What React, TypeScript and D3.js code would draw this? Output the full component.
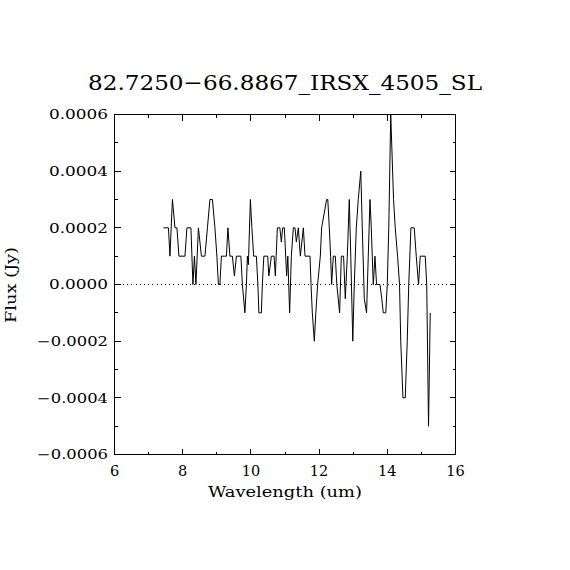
import React from "react";
import * as d3 from "d3";

const TITLE = "82.7250\u221266.8867_IRSX_4505_SL";
const X_LABEL = "Wavelength (um)";
const Y_LABEL = "Flux (Jy)";

const WAVELENGTH = [
  7.436, 7.582, 7.626, 7.699, 7.773, 7.831, 7.89, 8.066, 8.124, 8.241, 8.3, 8.344, 8.388, 8.461, 8.549,
  8.652, 8.725, 8.798, 8.871, 8.945, 9.003, 9.047, 9.091, 9.135, 9.282, 9.326, 9.384, 9.457, 9.516, 9.575,
  9.706, 9.75, 9.824, 9.868, 9.897, 9.926, 9.985, 10.029, 10.081, 10.161, 10.205, 10.234, 10.307, 10.336,
  10.38, 10.492, 10.527, 10.6, 10.679, 10.717, 10.776, 10.849, 10.893, 10.931, 10.981, 11.048, 11.083,
  11.136, 11.186, 11.245, 11.294, 11.333, 11.391, 11.45, 11.538, 11.587, 11.734, 11.763, 11.801, 11.86,
  11.904, 11.957, 12.036, 12.074, 12.22, 12.255, 12.299, 12.338, 12.367, 12.417, 12.475, 12.519, 12.601,
  12.651, 12.718, 12.768, 12.827, 12.885, 12.929, 12.988, 13.032, 13.091, 13.149, 13.222, 13.266, 13.325,
  13.392, 13.442, 13.492, 13.53, 13.559, 13.589, 13.638, 13.685, 13.785, 13.838, 13.882, 13.955, 13.999,
  14.043, 14.101, 14.183, 14.233, 14.301, 14.359, 14.394, 14.459, 14.526, 14.585, 14.629, 14.693, 14.79,
  14.849, 14.916, 14.966, 15.112, 15.156, 15.209, 15.259,
];

const FLUX = [
  0.0002, 0.0002, 0.0001, 0.0003, 0.0002, 0.0002, 0.0001, 0.0001, 0.0002, 0.0002, 0.0, 0.0001, 0.0, 0.0002, 0.0001,
  0.0001, 0.0002, 0.0003, 0.0003, 0.0002, 0.0001, 0.0, 0.0, 0.0001, 0.0001, 0.0002, 0.0001, 0.0001, 0.00003, 0.0001,
  0.0001, 0.0, -0.0001, 0.0, 0.0001, 0.00007, 0.0003, 0.0002, 0.0001, 0.0001, 0.0, -0.0001, -0.0001, 0.0,
  0.0001, 0.0001, 0.00003, 0.0001, 0.0001, 0.00003, 0.0002, 0.0002, 0.00015, 0.0002, 0.0002, 0.00003, 0.0001,
  -0.0001, 0.0001, 0.0002, 0.0002, 0.00015, 0.0002, 0.0001, 0.0002, 0.0001, 0.0001, 0.0, -0.0001, -0.0002,
  -0.0001, 0.0, 0.0001, 0.0002, 0.0003, 0.0003, 0.0002, 0.0001, 0.0, 0.0001, 0.0001, 0.0, -0.0001,
  0.0001, 0.0001, -0.00005, 0.0001, 0.0003, 0.0001, -0.0002, 0.0, 0.0002, 0.0003, 0.0004, 0.0002, -0.00005,
  -0.0001, 0.0001, 0.0003, 0.0002, 0.0001, 0.0, 0.0001, 0.0, 0.0, -0.00005, -0.0001, -0.0001, 0.0,
  0.0002, 0.0006, 0.0003, 0.0002, 0.0001, 0.0, -0.0002, -0.0004, -0.0004, -0.0002, 0.0, 0.0002, 0.0002,
  0.0001, 0.0, 0.0001, 0.0001, 0.0, -0.0005, -0.0001,
];

const X_MAJOR = [6, 8, 10, 12, 14, 16];
const X_MINOR = [7, 9, 11, 13, 15];
const X_TICK_LABELS = ["6", "8", "10", "12", "14", "16"];
const Y_MAJOR = [-0.0006, -0.0004, -0.0002, 0, 0.0002, 0.0004, 0.0006];
const Y_MINOR = [-0.0005, -0.0003, -0.0001, 0.0001, 0.0003, 0.0005];
const Y_TICK_LABELS = ["\u22120.0006", "\u22120.0004", "\u22120.0002", "0.0000", "0.0002", "0.0004", "0.0006"];

const FONT = "'DejaVu Serif', serif";

export default function App() {
  const left = 114.5, right = 455.5, top = 114.5, bottom = 454.5;
  const x = d3.scaleLinear().domain([6, 16]).range([left, right]);
  const y = d3.scaleLinear().domain([-0.0006, 0.0006]).range([bottom, top]);
  const line = d3
    .line<number>()
    .x((_, i) => x(WAVELENGTH[i]))
    .y((d) => y(d));
  const majL = 6, minL = 3;

  return (
    <svg
      width={570}
      height={570}
      style={{ position: "absolute", left: 0, top: 0, background: "#fff" }}
    >
      <rect x={0} y={0} width={570} height={570} fill="#fff" />
      <text x={285} y={89.5} fontFamily={FONT} fontSize={21} textAnchor="middle"
        textLength={394} lengthAdjust="spacingAndGlyphs">{TITLE}</text>

      <line x1={left} x2={right} y1={y(0)} y2={y(0)} stroke="#000" strokeWidth={1}
        strokeDasharray="1 3.2" shapeRendering="crispEdges" />

      <path d={line(FLUX) || ""} fill="none" stroke="#000" strokeWidth={1} />

      <rect x={left} y={top} width={right - left} height={bottom - top} fill="none"
        stroke="#000" strokeWidth={1} shapeRendering="crispEdges" />

      <g stroke="#000" strokeWidth={1} shapeRendering="crispEdges">
        {X_MAJOR.map((t) => (
          <g key={"xM" + t}>
            <line x1={x(t)} x2={x(t)} y1={bottom} y2={bottom - majL} />
            <line x1={x(t)} x2={x(t)} y1={top} y2={top + majL} />
          </g>
        ))}
        {X_MINOR.map((t) => (
          <g key={"xm" + t}>
            <line x1={x(t)} x2={x(t)} y1={bottom} y2={bottom - minL} />
            <line x1={x(t)} x2={x(t)} y1={top} y2={top + minL} />
          </g>
        ))}
        {Y_MAJOR.map((t) => (
          <g key={"yM" + t}>
            <line x1={left} x2={left + majL} y1={y(t)} y2={y(t)} />
            <line x1={right} x2={right - majL} y1={y(t)} y2={y(t)} />
          </g>
        ))}
        {Y_MINOR.map((t) => (
          <g key={"ym" + t}>
            <line x1={left} x2={left + minL} y1={y(t)} y2={y(t)} />
            <line x1={right} x2={right - minL} y1={y(t)} y2={y(t)} />
          </g>
        ))}
      </g>

      {X_MAJOR.map((t, i) => (
        <text key={"xl" + t} x={x(t)} y={476} fontFamily={FONT} fontSize={14.5}
          textAnchor="middle">{X_TICK_LABELS[i]}</text>
      ))}
      {Y_MAJOR.map((t, i) => (
        <text key={"yl" + t} x={108} y={y(t) + 4.8} fontFamily={FONT} fontSize={13}
          textAnchor="end" textLength={Y_TICK_LABELS[i].length === 7 ? 71 : 59}
          lengthAdjust="spacingAndGlyphs">{Y_TICK_LABELS[i]}</text>
      ))}

      <text x={285} y={496.5} fontFamily={FONT} fontSize={15} textAnchor="middle"
        textLength={154} lengthAdjust="spacingAndGlyphs">{X_LABEL}</text>
      <text transform={`translate(16,285) rotate(-90)`} fontFamily={FONT} fontSize={15}
        textAnchor="middle" textLength={76} lengthAdjust="spacingAndGlyphs">{Y_LABEL}</text>
    </svg>
  );
}
